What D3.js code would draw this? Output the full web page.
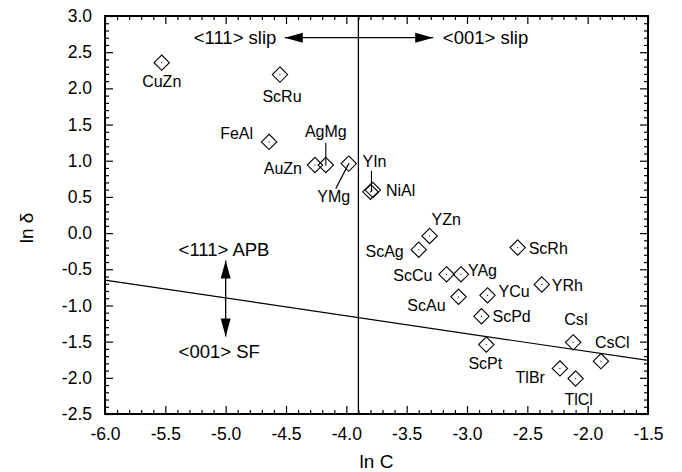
<!DOCTYPE html>
<html>
<head>
<meta charset="utf-8">
<script src="https://cdn.jsdelivr.net/npm/d3@7"></script>
<style>
    body { margin: 0; background: #fff; }
    svg { font-family: "Liberation Sans", Arial, Helvetica, sans-serif; }
</style>
</head>
<body>
<div id="chart"></div>
<script>
// compounds and their (ln C, ln delta) values
var names = ['CuZn', 'ScRu', 'FeAl', 'AuZn', 'AgMg', 'YMg', 'YIn', 'NiAl', 'YZn', 'ScAg', 'ScRh',
    'ScCu', 'YAg', 'YRh', 'ScAu', 'YCu', 'ScPd', 'ScPt', 'CsI', 'CsCl', 'TlBr', 'TlCl'];
var lnC = [-5.53, -4.55, -4.64, -4.26, -4.17, -3.98, -3.80, -3.78, -3.31, -3.40, -2.58,
    -3.17, -3.05, -2.38, -3.07, -2.83, -2.88, -2.84, -2.12, -1.89, -2.23, -2.10];
var lnDelta = [2.355, 2.19, 1.26, 0.94, 0.94, 0.96, 0.57, 0.595, -0.04, -0.23, -0.20,
    -0.57, -0.57, -0.71, -0.88, -0.86, -1.15, -1.54, -1.51, -1.77, -1.87, -2.01];

var xTicks = [-6.0, -5.5, -5.0, -4.5, -4.0, -3.5, -3.0, -2.5, -2.0, -1.5];
var yTicks = [3.0, 2.5, 2.0, 1.5, 1.0, 0.5, 0.0, -0.5, -1.0, -1.5, -2.0, -2.5];

// boundary lines
var slipBoundary = -3.9;
var apbLine = [[-6.0, -0.65], [-1.5, -1.76]];

// label placement next to each diamond (pixels)
var labelPos = {
    CuZn: {dx: 0, dy: 24, a: 'middle'},
    ScRu: {dx: 2, dy: 27, a: 'middle'},
    FeAl: {dx: -16, dy: -3, a: 'end'},
    AuZn: {dx: -13, dy: 9, a: 'end'},
    AgMg: {dx: 0, dy: -28, a: 'middle', lead: [0, -22, 0, 0]},
    YMg: {dx: -15, dy: 38, a: 'middle', lead: [0, 0, -13, 25]},
    YIn: {dx: -8, dy: -25, a: 'start', lead: [1, -21, 1, 0]},
    NiAl: {dx: 13, dy: 6, a: 'start'},
    YZn: {dx: 2, dy: -11, a: 'start'},
    ScAg: {dx: -15, dy: 7, a: 'end'},
    ScRh: {dx: 11, dy: 6, a: 'start'},
    ScCu: {dx: -14, dy: 7, a: 'end'},
    YAg: {dx: 7, dy: 2, a: 'start'},
    YRh: {dx: 10, dy: 7, a: 'start'},
    ScAu: {dx: -13, dy: 14, a: 'end'},
    YCu: {dx: 11, dy: 2, a: 'start'},
    ScPd: {dx: 11, dy: 6, a: 'start'},
    ScPt: {dx: -1, dy: 24, a: 'middle'},
    CsI: {dx: 3, dy: -17, a: 'middle'},
    CsCl: {dx: -6, dy: -13, a: 'start'},
    TlBr: {dx: -15, dy: 15, a: 'end'},
    TlCl: {dx: 3, dy: 26, a: 'middle'}
};

var width = 682, height = 472;
var margin = {top: 16, right: 34, bottom: 58, left: 105};
var w = width - margin.left - margin.right,
    h = height - margin.top - margin.bottom;

var x = d3.scaleLinear().domain([-6.0, -1.5]).range([0, w]);
var y = d3.scaleLinear().domain([-2.5, 3.0]).range([h, 0]);

var svg = d3.select('#chart').append('svg')
    .attr('width', width)
    .attr('height', height);

var g = svg.append('g')
    .attr('transform', 'translate(' + margin.left + ',' + margin.top + ')');

// minor ticks every 0.1
var xMinor = d3.range(-60, -14, 1).map(function (d) { return d / 10; })
    .filter(function (d) { return Math.abs(d * 2 - Math.round(d * 2)) > 1e-6; });
var yMinor = d3.range(-25, 31, 1).map(function (d) { return d / 10; })
    .filter(function (d) { return Math.abs(d * 2 - Math.round(d * 2)) > 1e-6; });

// plain hyphen instead of d3's unicode minus
var fmt = function (d) { return d3.format('.1f')(d).replace('\u2212', '-'); };

function styleAxis(sel) {
    sel.select('.domain').remove();
    sel.selectAll('line').attr('stroke', '#000').attr('stroke-width', 1.2);
    sel.selectAll('text').attr('fill', '#000').style('font-size', '17.5px');
}

g.append('g').attr('transform', 'translate(0,' + h + ')')
    .call(d3.axisBottom(x).tickValues(xTicks).tickSize(-8).tickPadding(14).tickFormat(fmt))
    .call(styleAxis);
g.append('g').attr('transform', 'translate(0,' + h + ')')
    .call(d3.axisBottom(x).tickValues(xMinor).tickSize(-4).tickFormat(''))
    .call(styleAxis);
g.append('g')
    .call(d3.axisTop(x).tickValues(xTicks).tickSize(-8).tickFormat(''))
    .call(styleAxis);
g.append('g')
    .call(d3.axisTop(x).tickValues(xMinor).tickSize(-4).tickFormat(''))
    .call(styleAxis);

g.append('g')
    .call(d3.axisLeft(y).tickValues(yTicks).tickSize(-8).tickPadding(13).tickFormat(fmt))
    .call(styleAxis);
g.append('g')
    .call(d3.axisLeft(y).tickValues(yMinor).tickSize(-4).tickFormat(''))
    .call(styleAxis);
g.append('g').attr('transform', 'translate(' + w + ',0)')
    .call(d3.axisRight(y).tickValues(yTicks).tickSize(-8).tickFormat(''))
    .call(styleAxis);
g.append('g').attr('transform', 'translate(' + w + ',0)')
    .call(d3.axisRight(y).tickValues(yMinor).tickSize(-4).tickFormat(''))
    .call(styleAxis);

// frame
g.append('rect')
    .attr('width', w).attr('height', h)
    .attr('fill', 'none').attr('stroke', '#000').attr('stroke-width', 2);

// boundary lines
g.append('line')
    .attr('x1', x(slipBoundary)).attr('x2', x(slipBoundary))
    .attr('y1', 0).attr('y2', h)
    .attr('stroke', '#000').attr('stroke-width', 1.3);
g.append('line')
    .attr('x1', x(apbLine[0][0])).attr('y1', y(apbLine[0][1]))
    .attr('x2', x(apbLine[1][0])).attr('y2', y(apbLine[1][1]))
    .attr('stroke', '#000').attr('stroke-width', 1.2);

// arrow with filled head(s)
function arrowHead(x0, y0, x1, y1) {
    var ang = Math.atan2(y1 - y0, x1 - x0), len = 18, half = 5;
    var bx = x1 - len * Math.cos(ang), by = y1 - len * Math.sin(ang);
    var px = -Math.sin(ang) * half, py = Math.cos(ang) * half;
    g.append('path')
        .attr('d', 'M' + x1 + ',' + y1 + 'L' + (bx + px) + ',' + (by + py) + 'L' + (bx - px) + ',' + (by - py) + 'Z')
        .attr('fill', '#000');
}

function doubleArrow(x0, y0, x1, y1) {
    g.append('line')
        .attr('x1', x0).attr('y1', y0).attr('x2', x1).attr('y2', y1)
        .attr('stroke', '#000').attr('stroke-width', 1.3);
    arrowHead(x0, y0, x1, y1);
    arrowHead(x1, y1, x0, y0);
}

// slip direction arrow
doubleArrow(x(-4.51), y(2.70), x(-3.28), y(2.70));
g.append('text').attr('x', x(-4.58)).attr('y', y(2.70)).attr('dy', '0.36em')
    .attr('text-anchor', 'end').style('font-size', '18.5px').text('<111> slip');
g.append('text').attr('x', x(-3.20)).attr('y', y(2.70)).attr('dy', '0.36em')
    .attr('text-anchor', 'start').style('font-size', '18.5px').text('<001> slip');

// APB / SF arrow
doubleArrow(x(-5.0), y(-0.38), x(-5.0), y(-1.43));
g.append('text').attr('x', x(-5.39)).attr('y', y(-0.31))
    .attr('text-anchor', 'start').style('font-size', '18.5px').text('<111> APB');
g.append('text').attr('x', x(-5.39)).attr('y', y(-1.72))
    .attr('text-anchor', 'start').style('font-size', '18.5px').text('<001> SF');

// points
var points = names.map(function (n, i) {
    return {name: n, x: lnC[i], y: lnDelta[i]};
});

var dots = g.selectAll('.pt')
    .data(points)
    .enter().append('g')
    .attr('class', 'pt')
    .attr('transform', function (d) {
        return 'translate(' + x(d.x) + ',' + y(d.y) + ')';
    });

dots.append('path')
    .attr('d', d3.symbol().type(d3.symbolDiamond2).size(150))
    .attr('fill', 'none')
    .attr('stroke', '#000')
    .attr('stroke-width', 1.1);

dots.append('circle')
    .attr('r', 0.6)
    .attr('fill', '#000');

dots.each(function (d) {
    var p = labelPos[d.name], sel = d3.select(this);
    if (p.lead) {
        sel.append('line')
            .attr('x1', p.lead[0]).attr('y1', p.lead[1])
            .attr('x2', p.lead[2]).attr('y2', p.lead[3])
            .attr('stroke', '#000').attr('stroke-width', 1.1);
    }
    sel.append('text')
        .attr('x', p.dx).attr('y', p.dy)
        .attr('text-anchor', p.a)
        .style('font-size', '16px')
        .text(d.name);
});

// axis titles
svg.append('text')
    .attr('x', margin.left + w / 2)
    .attr('y', 468)
    .attr('text-anchor', 'middle')
    .style('font-size', '19px')
    .text('ln C');

svg.append('text')
    .attr('transform', 'translate(33,228) rotate(-90)')
    .attr('text-anchor', 'middle')
    .style('font-size', '19px')
    .text('ln δ');
</script>
</body>
</html>
